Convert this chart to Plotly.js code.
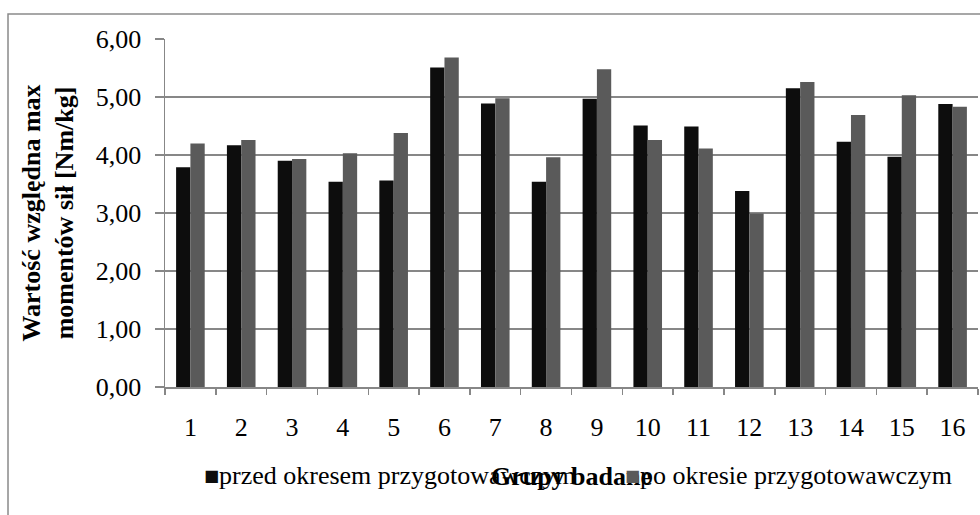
<!DOCTYPE html>
<html>
<head>
<meta charset="utf-8">
<script src="https://cdn.plot.ly/plotly-3.0.1.min.js"></script>
<style>
  html, body { margin: 0; padding: 0; background: #ffffff; }
  #chart { width: 980px; height: 515px; }
</style>
</head>
<body>
<div id="chart"></div>
<script>
// Groups 1..16 and the relative max torque values [Nm/kg] before and after the preparatory period
const groups = ['1','2','3','4','5','6','7','8','9','10','11','12','13','14','15','16'];
const before = [3.79, 4.17, 3.90, 3.54, 3.56, 5.51, 4.89, 3.54, 4.97, 4.51, 4.49, 3.38, 5.15, 4.23, 3.97, 4.88];
const after  = [4.20, 4.26, 3.93, 4.03, 4.38, 5.68, 4.98, 3.96, 5.48, 4.26, 4.11, 2.99, 5.26, 4.69, 5.03, 4.83];
const seriesNames = ['przed okresem przygotowawczym', 'po okresie przygotowawczym'];
const seriesColors = ['#0d0d0d', '#5a5a5a'];
const yTicks = [0, 1, 2, 3, 4, 5, 6];

const serif = "'Liberation Serif', 'Times New Roman', serif";
const gridGrey = '#878787';

const traces = [before, after].map((vals, i) => ({
  type: 'bar', x: groups, y: vals, name: seriesNames[i],
  marker: { color: seriesColors[i], line: { width: 0 } },
  hoverinfo: 'x+y'
}));

// Legend row below the axis title: a key square followed by the series name
const legendKeyX = [0.0455, 0.5633];
const legendY = -0.255;
const legendAnnotations = [];
seriesNames.forEach((name, i) => {
  legendAnnotations.push({
    xref: 'paper', yref: 'paper', x: legendKeyX[i], y: legendY,
    xanchor: 'left', yanchor: 'middle', showarrow: false,
    text: '■', font: { family: 'DejaVu Sans', size: 16, color: seriesColors[i] }
  });
  legendAnnotations.push({
    xref: 'paper', yref: 'paper', x: legendKeyX[i] + 0.019, y: legendY,
    xanchor: 'left', yanchor: 'middle', showarrow: false,
    text: name, font: { family: serif, size: 26, color: '#000000' }
  });
});

const layout = {
  width: 980,
  height: 515,
  margin: { l: 165, r: 2, t: 39, b: 128, pad: 0 },
  paper_bgcolor: '#ffffff',
  plot_bgcolor: '#ffffff',
  separators: ', ',
  font: { family: serif, size: 26, color: '#000000' },
  barmode: 'group',
  bargap: 0.437,
  bargroupgap: 0,
  showlegend: false,
  xaxis: {
    type: 'category',
    tickson: 'boundaries',
    ticks: 'outside',
    ticklen: 6,
    tickwidth: 1.5,
    tickcolor: gridGrey,
    showline: true,
    linecolor: gridGrey,
    linewidth: 1.5,
    showgrid: false,
    zeroline: false,
    tickfont: { family: serif, size: 26, color: '#000000' },
    ticklabelstandoff: 16,
    title: {
      text: '<b>Grupy badane</b>',
      font: { family: serif, size: 26, color: '#000000' },
      standoff: 26
    },
    fixedrange: true
  },
  yaxis: {
    range: [0, 6],
    tickvals: yTicks,
    tickformat: '.2f',
    ticks: 'outside',
    ticklen: 9,
    tickwidth: 1.5,
    tickcolor: gridGrey,
    showline: true,
    linecolor: gridGrey,
    linewidth: 1.5,
    showgrid: true,
    gridcolor: gridGrey,
    gridwidth: 1.5,
    zeroline: false,
    tickfont: { family: serif, size: 26, color: '#000000' },
    ticklabelstandoff: 8,
    title: {
      text: '<b>Wartość względna max<br>momentów sił [Nm/kg]</b>',
      font: { family: serif, size: 26, color: '#000000' },
      standoff: 14
    },
    fixedrange: true
  },
  annotations: legendAnnotations,
  shapes: [
    {
      // outer chart-area frame
      type: 'rect', xref: 'paper', yref: 'paper',
      x0: -0.1931, x1: 1.01, y0: -0.40, y1: 1.0719,
      line: { color: '#8a8a8a', width: 1.5 },
      fillcolor: 'rgba(0,0,0,0)',
      layer: 'below'
    }
  ]
};

Plotly.newPlot('chart', traces, layout, { displayModeBar: false, staticPlot: true });
</script>
</body>
</html>
